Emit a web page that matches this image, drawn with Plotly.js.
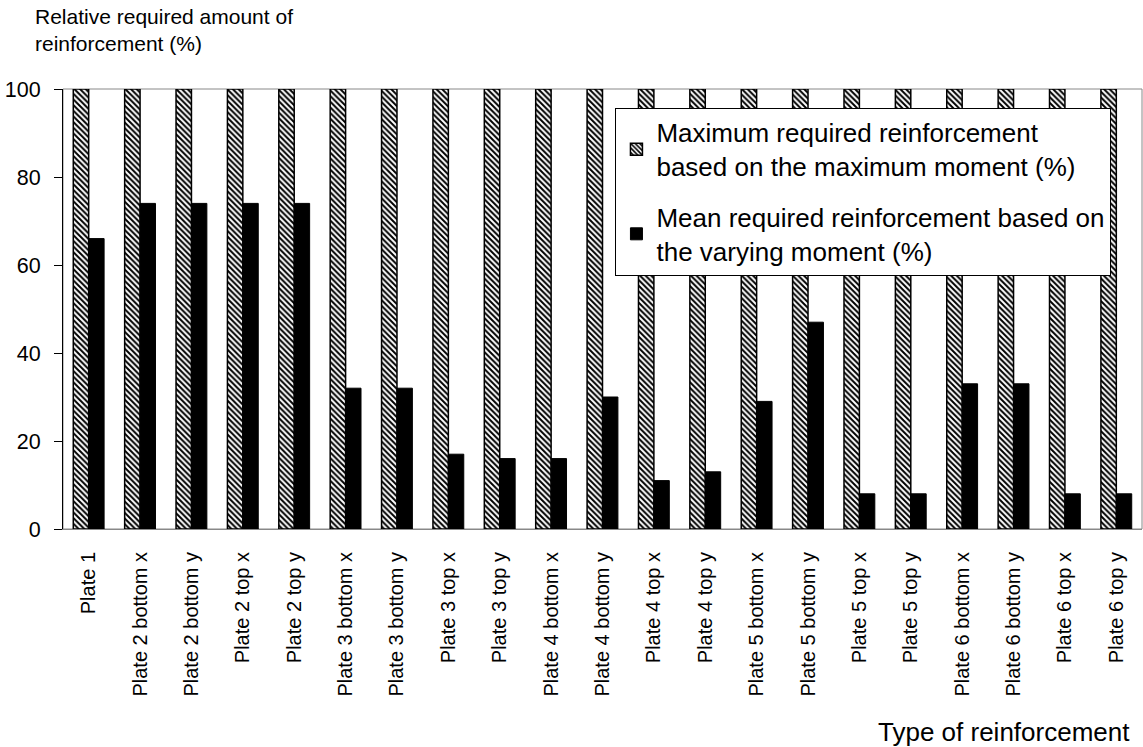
<!DOCTYPE html>
<html>
<head>
<meta charset="utf-8">
<script src="https://cdn.plot.ly/plotly-3.0.1.min.js"></script>
<style>body{margin:0;padding:0;background:#fff;}#chart{width:1143px;height:747px;}</style>
</head>
<body>
<div id="chart"></div>
<script>
const categories = ["Plate 1","Plate 2 bottom x","Plate 2 bottom y","Plate 2 top x","Plate 2 top y","Plate 3 bottom x","Plate 3 bottom y","Plate 3 top x","Plate 3 top y","Plate 4 bottom x","Plate 4 bottom y","Plate 4 top x","Plate 4 top y","Plate 5 bottom x","Plate 5 bottom y","Plate 5 top x","Plate 5 top y","Plate 6 bottom x","Plate 6 bottom y","Plate 6 top x","Plate 6 top y"];
const maxRequired = [100,100,100,100,100,100,100,100,100,100,100,100,100,100,100,100,100,100,100,100,100];
const meanRequired = [66,74,74,74,74,32,32,17,16,16,30,11,13,29,47,8,8,33,33,8,8];
const seriesNames = ["Maximum required reinforcement<br>based on the maximum moment (%)","Mean required reinforcement based on<br>the varying moment (%)"];
const yTicks = [0,20,40,60,80,100];

const font = "Liberation Sans, Arial, sans-serif";
const traces = [
  {type:'bar', x:categories, y:maxRequired, name:seriesNames[0], legendgroup:'a',
   marker:{color:'#ffffff', line:{color:'#000', width:1.5},
           pattern:{shape:'\\', fgcolor:'#000', bgcolor:'#fff', size:4, solidity:0.5}}},
  {type:'bar', x:categories, y:meanRequired, name:seriesNames[1], legendgroup:'b',
   marker:{color:'#000000', line:{color:'#000', width:1}}}
];
const layout = {
  width:1143, height:747,
  margin:{l:63, r:1, t:89, b:218},
  paper_bgcolor:'#fff', plot_bgcolor:'#fff',
  barmode:'group', bargap:0.4, bargroupgap:0,
  font:{family:font, color:'#000', size:20},
  showlegend:true,
  legend:{x:0.512, y:0.957, xanchor:'left', yanchor:'top', bgcolor:'#fff',
          bordercolor:'#000', borderwidth:1, font:{size:26, family:font},
          tracegroupgap:14, itemwidth:30},
  xaxis:{type:'category', tickangle:-90, tickfont:{size:20, family:font},
         showline:true, linecolor:'#888', linewidth:1, ticks:'', showgrid:false,
         ticklabelstandoff:14, automargin:false},
  yaxis:{range:[0,100], tickvals:yTicks, ticktext:yTicks.map(String),
         showline:true, linecolor:'#000', linewidth:1, ticks:'outside', ticklen:8,
         tickcolor:'#000', showgrid:false, zeroline:false, ticklabelstandoff:9,
         tickfont:{size:21.5, family:font}, automargin:false},
  shapes:[{type:'rect', xref:'paper', yref:'paper', x0:0, x1:1, y0:0, y1:1,
           line:{color:'#888', width:1}, layer:'below'}],
  annotations:[
    {text:'Relative required amount of<br>reinforcement (%)', xref:'paper', yref:'paper',
     x:-0.028, y:1.195, xanchor:'left', yanchor:'top', align:'left', showarrow:false,
     font:{size:21, family:font}},
    {text:'Type of reinforcement', xref:'paper', yref:'paper', x:0.991, y:-0.461,
     xanchor:'right', yanchor:'middle', showarrow:false, font:{size:26, family:font}}
  ]
};
Plotly.newPlot('chart', traces, layout, {displayModeBar:false, staticPlot:true});
</script>
</body>
</html>
